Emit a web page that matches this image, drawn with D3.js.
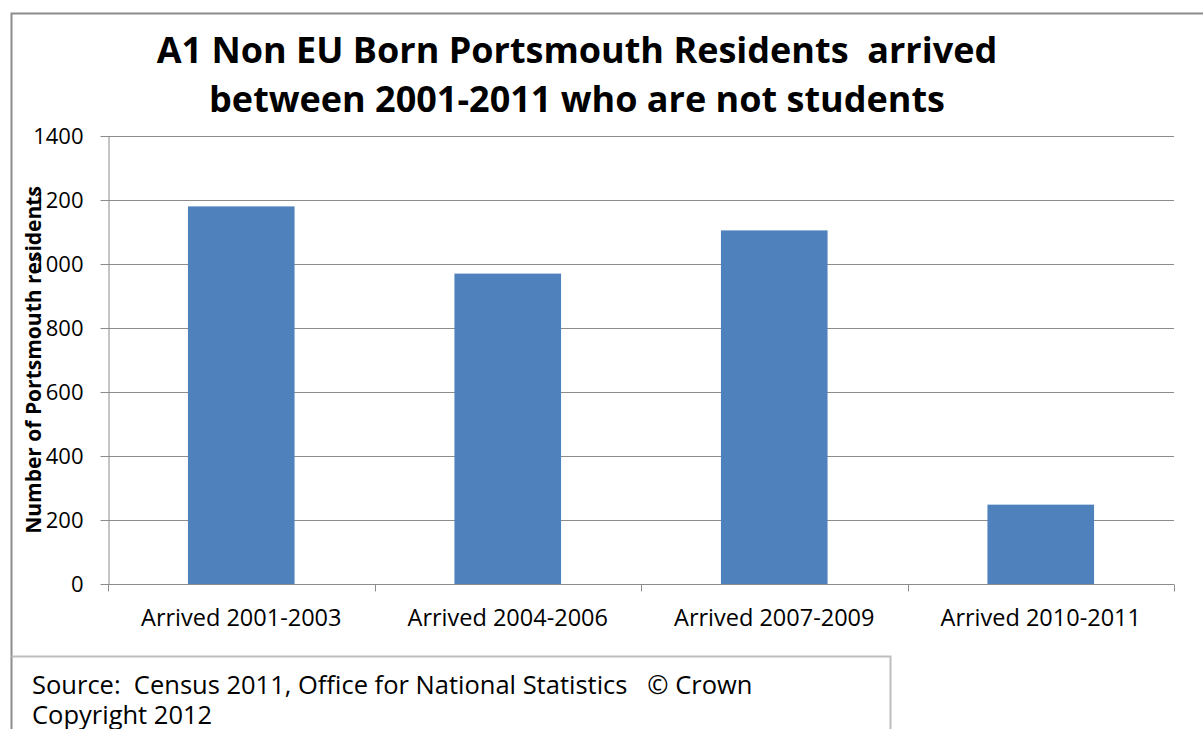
<!DOCTYPE html>
<html><head><meta charset="utf-8">
<script src="https://cdn.jsdelivr.net/npm/d3@7"></script>
<style>body{margin:0;background:#fff;} svg{display:block;} text{white-space:pre;}</style>
</head><body>
<svg id="c" width="1203" height="729"></svg>
<script>
const categories = ["Arrived 2001-2003","Arrived 2004-2006","Arrived 2007-2009","Arrived 2010-2011"];
const values = [1180, 970, 1105, 248];
const yTicks = [0,200,400,600,800,1000,1200,1400];
const titleLines = ["A1 Non EU Born Portsmouth Residents  arrived","between 2001-2011 who are not students"];
const yTitle = "Number of Portsmouth residents";
const sourceLines = ["Source:  Census 2011, Office for National Statistics   \u00A9 Crown","Copyright 2012"];

const svg = d3.select("#c");
const font = "'Open Sans', 'DejaVu Sans', sans-serif";
const m = {left:108, right:1174, top:136, bottom:584};
const x = d3.scaleBand().domain(categories).range([m.left, m.right]).paddingInner(0.6).paddingOuter(0.3);
const y = d3.scaleLinear().domain([0,1400]).range([m.bottom, m.top]);
const grey = "#8c8c8c";

// outer frame
svg.append("path").attr("d","M11.5,729 L11.5,13.5 L1203,13.5").attr("fill","none").attr("stroke",grey).attr("stroke-width",2);

// title
svg.append("g").selectAll("text").data(titleLines).join("text")
  .attr("x",577).attr("y",(d,i)=>63+i*49).attr("text-anchor","middle")
  .attr("font-family",font).attr("font-weight","bold").attr("font-size",36).attr("fill","#000").text(d=>d);

// gridlines
svg.append("g").selectAll("line").data(yTicks.filter(t=>t>0)).join("line")
  .attr("x1",m.left).attr("x2",m.right).attr("y1",d=>Math.round(y(d))+0.5).attr("y2",d=>Math.round(y(d))+0.5)
  .attr("stroke",grey).attr("stroke-width",1);

// bars
svg.append("g").selectAll("rect").data(values).join("rect")
  .attr("x",(d,i)=>x(categories[i])).attr("width",x.bandwidth())
  .attr("y",d=>y(d)).attr("height",d=>y(0)-y(d)).attr("fill","#4F81BD");

// y axis
const ya = svg.append("g").attr("transform",`translate(${m.left+0.5},0)`)
  .call(d3.axisLeft(y).tickValues(yTicks).tickFormat(d3.format("d")).tickSize(8).tickPadding(17).tickSizeOuter(0));
ya.select(".domain").attr("stroke",grey);
ya.selectAll(".tick line").attr("stroke",grey);
ya.selectAll(".tick text").attr("font-family",font).attr("font-size",22).attr("fill","#000").attr("dy","0.35em");

// x axis with boundary ticks
const xa = svg.append("g").attr("transform",`translate(0,${m.bottom+0.5})`)
  .call(d3.axisBottom(x).tickSize(0).tickPadding(0));
xa.select(".domain").attr("stroke",grey).attr("d",`M${m.left},0H${m.right}`);
xa.selectAll(".tick text").attr("font-family",font).attr("font-size",23.5).attr("fill","#000").attr("y",41).attr("dy",0);
const bounds = categories.map(c=>x(c)-x.step()*x.paddingInner()/2).concat([m.right]);
bounds[0]=m.left;
xa.append("g").selectAll("line").data(bounds).join("line")
  .attr("x1",d=>Math.round(d)+0.5).attr("x2",d=>Math.round(d)+0.5).attr("y1",0).attr("y2",7).attr("stroke",grey);

// y title
svg.append("text").attr("transform","translate(41,360) rotate(-90)").attr("text-anchor","middle")
  .attr("font-family",font).attr("font-weight","bold").attr("font-size",21).attr("fill","#000").text(yTitle);

// source box
svg.append("path").attr("d","M11.5,656.5 L890.5,656.5 L890.5,729").attr("fill","none").attr("stroke","#bdbdbd").attr("stroke-width",2);
svg.append("g").selectAll("text").data(sourceLines).join("text")
  .attr("x",32).attr("y",(d,i)=>694+i*30).attr("font-family",font).attr("font-size",25.5).attr("fill","#000").text(d=>d);
</script>
</body></html>
